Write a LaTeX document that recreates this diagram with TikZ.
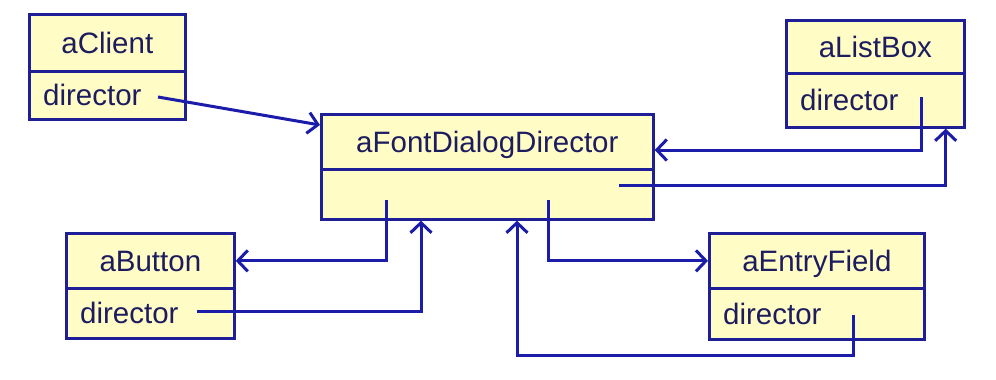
\documentclass[tikz,border=0pt]{standalone}
\usepackage{fontspec}
\setmainfont{Liberation Sans}
\usetikzlibrary{arrows.meta,calc}
\definecolor{boxfill}{RGB}{255,252,198}
\definecolor{boxline}{RGB}{30,30,150}
\definecolor{txt}{RGB}{28,28,95}
\definecolor{lineblue}{RGB}{28,28,170}
\newcommand{\dfont}{\fontsize{29.5}{34}\selectfont}
\tikzset{
  comp/.style={draw=boxline, fill=boxfill, line width=2.7pt, inner sep=0pt, anchor=north west,
    text height=21pt, text depth=0pt, font=\dfont, text=txt},
  attrtext/.style={anchor=west, inner sep=0pt, text height=21pt, text depth=0pt, font=\dfont, text=txt},
  link/.style={draw=lineblue, line width=3pt, -{Straight Barb[length=10pt,width=21pt]}}
}
\begin{document}
\begin{tikzpicture}[x=1pt,y=-1pt]
\useasboundingbox[fill=white] (0,0) rectangle (996,380);
% aClient
\node[comp, minimum width=156pt, minimum height=57pt] (clName) at (28,13) {aClient};
\node[comp, minimum width=156pt, minimum height=48pt] (clAttr) at (28,70) {};
\node[attrtext] (clDir) at ($(clAttr.west)+(15,0)$) {director};
% aFontDialogDirector
\node[comp, minimum width=332pt, minimum height=55pt] (fdName) at (320,113) {aFontDialogDirector};
\node[comp, minimum width=332pt, minimum height=50pt] (fdAttr) at (320,168) {};
% aListBox
\node[comp, minimum width=178pt, minimum height=53pt] (lbName) at (785,19) {aListBox};
\node[comp, minimum width=178pt, minimum height=54pt] (lbAttr) at (785,72) {};
\node[attrtext] (lbDir) at ($(lbAttr.west)+(15,0)$) {director};
% aButton
\node[comp, minimum width=168pt, minimum height=55pt] (btName) at (65,232) {aButton};
\node[comp, minimum width=168pt, minimum height=50pt] (btAttr) at (65,287) {};
\node[attrtext] (btDir) at ($(btAttr.west)+(15,0)$) {director};
% aEntryField
\node[comp, minimum width=215pt, minimum height=55pt] (efName) at (708,232) {aEntryField};
\node[comp, minimum width=215pt, minimum height=51pt] (efAttr) at (708,287) {};
\node[attrtext] (efDir) at ($(efAttr.west)+(15,0)$) {director};
% connector start points
\coordinate (cl1) at (158,97);
\coordinate (lb1) at (921,97);
\coordinate (fd1) at (619,185);
\coordinate (fd2) at (386,200);
\coordinate (bt1) at (197,311);
\coordinate (fd3) at (548,200);
\coordinate (ef1) at (853,315);
\coordinate (ef1c) at (853,355);
% connectors
\draw[link] (cl1) -- ($(fdName.north west)+(0,12)$);
\draw[link] (lb1) |- ($(fdName.north east)+(0,37)$);
\draw[link] (fd1) -| ($(lbAttr.south east)+(-20,0)$);
\draw[link] (fd2) |- (btName.east);
\draw[link] (bt1) -| ($(fdAttr.south west)+(101,0)$);
\draw[link] (fd3) |- (efName.west);
\draw[link] (ef1) -- (ef1c) -| ($(fdAttr.south west)+(197,0)$);
\end{tikzpicture}
\end{document}
